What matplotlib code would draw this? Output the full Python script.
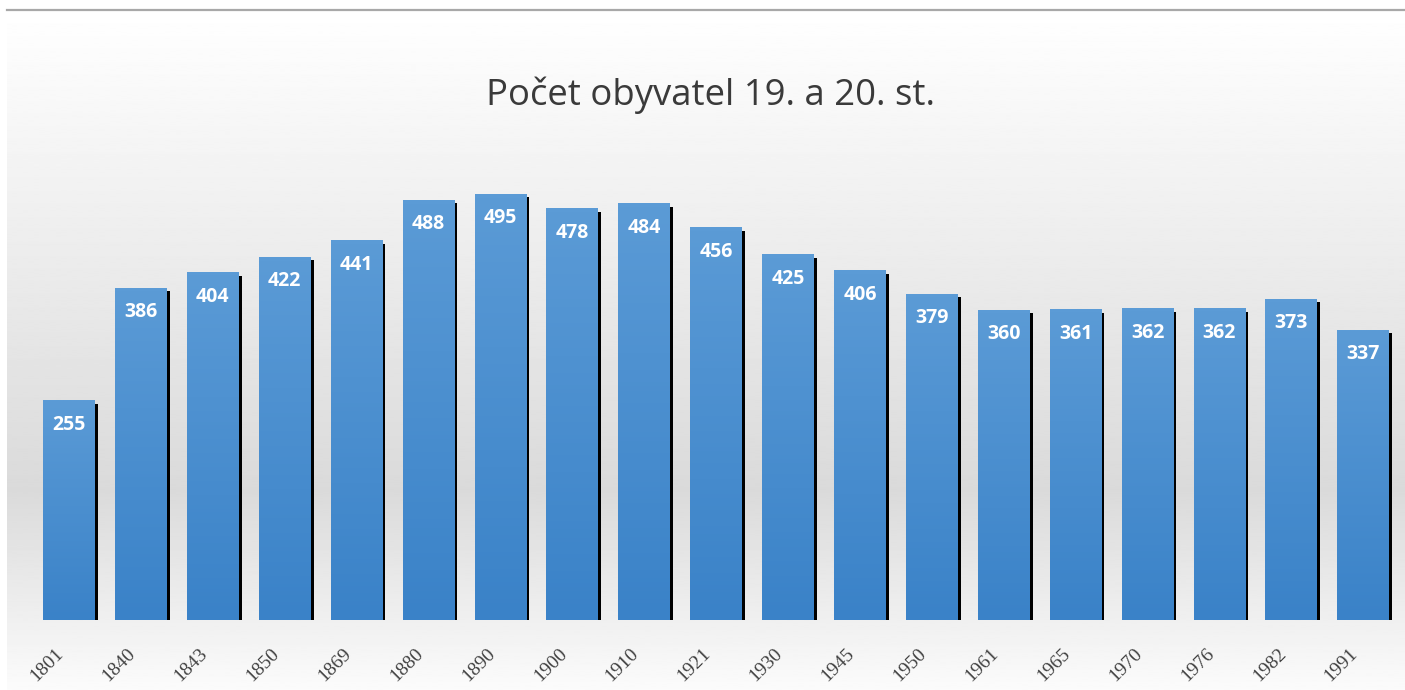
import matplotlib

matplotlib.use("Agg")
import matplotlib.pyplot as plt
import numpy as np
from matplotlib.colors import LinearSegmentedColormap
from matplotlib.patches import Rectangle

years = ["1801", "1840", "1843", "1850", "1869", "1880", "1890", "1900", "1910",
         "1921", "1930", "1945", "1950", "1961", "1965", "1970", "1976", "1982", "1991"]
population = [255, 386, 404, 422, 441, 488, 495, 478, 484, 456,
              425, 406, 379, 360, 361, 362, 362, 373, 337]
title = "Počet obyvatel 19. a 20. st."

W, H = 1405, 690
fig = plt.figure(figsize=(W / 100, H / 100), dpi=100)

# background: light grey gradient with a thin rule on top
bg = fig.add_axes([0, 0, 1, 1])
bg.set_axis_off()
rows = np.linspace(10, H, 400)
shade = np.interp(rows, [10, 490, 690], [1.0, 0.855, 0.985])
bg.imshow(shade[:, None], extent=(7, W, H, 10), cmap="gray", vmin=0, vmax=1,
          aspect="auto", interpolation="bilinear")
bg.plot([7, W], [10, 10], color="#a8a8a8", linewidth=1.6)
bg.set_xlim(0, W)
bg.set_ylim(H, 0)

# main axes, placed so one category = ~72 px and 1 unit = 0.86 px
px_per_cat = 71.9
px_per_unit = 0.86
y_top = 550
left = 69 - 0.5 * px_per_cat
ax = fig.add_axes([left / W, 70 / H, (len(years) * px_per_cat) / W, y_top * px_per_unit / H])
ax.set_facecolor("none")
for s in ax.spines.values():
    s.set_visible(False)
ax.set_xticks([])
ax.set_yticks([])

bar_cmap = LinearSegmentedColormap.from_list("bar", ["#3a82c8", "#5b9bd6"])
gradient = np.linspace(0, 1, 100)[:, None]
width = 0.72
dx = 3 / px_per_cat
dy = 3 / px_per_unit

for i, v in enumerate(population):
    ax.add_patch(Rectangle((i - width / 2 + dx, 0), width, v - dy,
                           facecolor="black", edgecolor="none", zorder=1))
    ax.imshow(gradient, extent=(i - width / 2, i + width / 2, 0, v), origin="lower",
              cmap=bar_cmap, aspect="auto", zorder=2)
    ax.annotate(str(v), (i, v), xytext=(0, -24), textcoords="offset pixels",
                ha="center", va="center", color="white", fontweight="bold",
                fontfamily="Open Sans", fontsize=14, zorder=3)
    ax.annotate(years[i], (i, 0), xytext=(-8, -31), textcoords="offset pixels",
                rotation=45, rotation_mode="anchor", ha="right", va="center",
                color="#404040", fontfamily="Liberation Serif", fontsize=14,
                annotation_clip=False)

ax.set_xlim(-0.5, len(years) - 0.5)
ax.set_ylim(0, y_top)

fig.text(711 / W, 1 - 105 / H, title, ha="center", va="baseline", fontsize=26.3,
         color="#3a3a3a", fontfamily="Open Sans")

fig.savefig("out.png", dpi=100)
